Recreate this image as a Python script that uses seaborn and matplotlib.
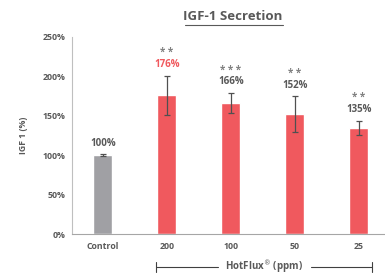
import matplotlib
matplotlib.use("Agg")
import matplotlib.pyplot as plt
import seaborn as sns
import pandas as pd

categories = ["Control", "200", "100", "50", "25"]
values = [100, 176, 166, 152, 135]
errors = [1, 25, 13, 23, 9]
value_labels = ["100%", "176%", "166%", "152%", "135%"]
stars = ["", "* *", "* * *", "* *", "* *"]
yticks = [0, 50, 100, 150, 200, 250]
ytick_labels = ["0%", "50%", "100%", "150%", "200%", "250%"]

sns.set_theme(style="white")
plt.rcParams['font.family'] = ['Open Sans', 'DejaVu Sans']

df = pd.DataFrame({"cat": categories, "val": values})
grey = "#A0A0A4"
red = "#F0595E"
text_c = "#595959"
colors = [grey, red, red, red, red]

fig = plt.figure(figsize=(3.85, 2.74), dpi=100)
ax = fig.add_axes([72/385, 40/274, (385-72)/385, (234-37)/274])
sns.barplot(data=df, x="cat", y="val", hue="cat", palette=colors, legend=False,
            width=0.29, ax=ax, saturation=1)
ax.errorbar(range(len(categories)), values, yerr=errors, fmt="none",
            ecolor="#505050", elinewidth=0.9, capsize=2.2, capthick=0.9)

ax.set_ylim(0, 250)
ax.set_xlim(-0.48, 4.41)
ax.set_yticks(yticks)
ax.set_yticklabels(ytick_labels, fontsize=6.3, fontweight="bold", color=text_c)
ax.set_xticks(range(len(categories)))
ax.set_xticklabels(categories, fontsize=6.3, fontweight="bold", color=text_c)
ax.tick_params(axis="x", length=0, pad=6)
ax.tick_params(axis="y", length=0, pad=5)
ax.set_xlabel("")
ax.set_ylabel("IGF 1 (%)", fontsize=6.3, fontweight="bold", color=text_c, labelpad=10)
for s in ["top", "right"]:
    ax.spines[s].set_visible(False)
ax.spines["left"].set_color("#BFBFBF")
ax.spines["bottom"].set_color("#A6A6A6")
ax.spines["left"].set_linewidth(0.8)
ax.spines["bottom"].set_linewidth(0.8)

for i, (v, e) in enumerate(zip(values, errors)):
    top = v + e
    c = red if i == 1 else text_c
    ax.text(i, top + 7, value_labels[i], ha="center", va="bottom", fontsize=7,
            fontweight="bold", color=c)
    if stars[i]:
        ax.text(i, top + 22, stars[i], ha="center", va="bottom", fontsize=7,
                fontweight="bold", color="#7F7F7F")

fig.text(233/385, 1 - 17/274, "IGF-1 Secretion", ha="center", va="center",
         fontsize=9.5, fontweight="bold", color=text_c)
fig.add_artist(plt.Line2D([185/385, 283/385], [1 - 25/274, 1 - 25/274],
                          color=text_c, lw=0.8))

# bracket
yb = 1 - 267/274
fig.add_artist(plt.Line2D([156/385, 218/385], [yb, yb], color="#404040", lw=0.8))
fig.add_artist(plt.Line2D([311/385, 372/385], [yb, yb], color="#404040", lw=0.8))
for xb in [156/385, 372/385]:
    fig.add_artist(plt.Line2D([xb, xb], [yb - 5/274, yb + 5/274], color="#404040", lw=0.8))
fig.text(264/385, yb, "HotFlux$^{\u00ae}$ (ppm)", ha="center", va="center",
         fontsize=7, fontweight="bold", color=text_c)

fig.savefig("out.png", dpi=100)
